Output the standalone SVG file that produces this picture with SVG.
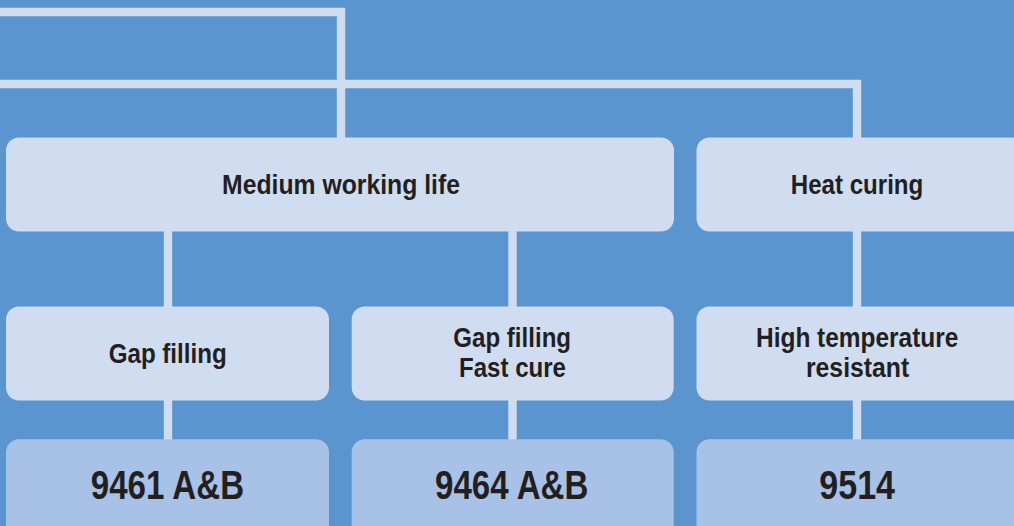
<svg xmlns="http://www.w3.org/2000/svg" width="1014" height="526" viewBox="0 0 1014 526">
<style>
.bg{fill:#5a95cf}
.c{fill:none;stroke:#d0ddf0;stroke-width:8.4;stroke-linejoin:miter}
.b1{fill:#d0ddf0}
.b2{fill:#a8c1e6}
.t{font-family:"Liberation Sans Narrow","Liberation Sans",Arial,sans-serif;font-weight:bold;fill:#231f20;text-anchor:middle}
.s{font-size:28px}
.l{font-size:40px}
</style>
<rect class="bg" x="0" y="0" width="1014" height="526"/>
<g id="connectors">
<path class="c" d="M0 12 H341 V140"/>
<path class="c" d="M0 84 H857 V140"/>
<path class="c" d="M168 228 V442"/>
<path class="c" d="M512.5 228 V442"/>
<path class="c" d="M857 228 V442"/>
</g>
<g id="n-medium">
<rect class="b1" x="6" y="137.5" width="668" height="94" rx="13"/>
<text class="t s" x="341" y="193.5" textLength="238" lengthAdjust="spacingAndGlyphs">Medium working life</text>
</g>
<g id="n-heat">
<rect class="b1" x="696.5" y="137.5" width="330" height="94" rx="13"/>
<text class="t s" x="857" y="194" textLength="132.5" lengthAdjust="spacingAndGlyphs">Heat curing</text>
</g>
<g id="n-gap">
<rect class="b1" x="6" y="306.5" width="323" height="94" rx="13"/>
<text class="t s" x="167.7" y="362.5" textLength="118" lengthAdjust="spacingAndGlyphs">Gap filling</text>
</g>
<g id="n-gapfast">
<rect class="b1" x="351.7" y="306.5" width="322" height="94" rx="13"/>
<text class="t s" x="512.2" y="346.7" textLength="117.7" lengthAdjust="spacingAndGlyphs">Gap filling</text>
<text class="t s" x="512.5" y="377.3" textLength="107" lengthAdjust="spacingAndGlyphs">Fast cure</text>
</g>
<g id="n-hightemp">
<rect class="b1" x="696.5" y="306.5" width="330" height="94" rx="13"/>
<text class="t s" x="857.2" y="346.7" textLength="202.3" lengthAdjust="spacingAndGlyphs">High temperature</text>
<text class="t s" x="857.6" y="377.3" textLength="103.3" lengthAdjust="spacingAndGlyphs">resistant</text>
</g>
<g id="n-9461">
<rect class="b2" x="6" y="439.3" width="323" height="110" rx="13"/>
<text class="t l" x="167.4" y="499" textLength="153.3" lengthAdjust="spacingAndGlyphs">9461 A&amp;B</text>
</g>
<g id="n-9464">
<rect class="b2" x="351.7" y="439.3" width="322" height="110" rx="13"/>
<text class="t l" x="511.7" y="498.5" textLength="153.3" lengthAdjust="spacingAndGlyphs">9464 A&amp;B</text>
</g>
<g id="n-9514">
<rect class="b2" x="696.5" y="439.3" width="330" height="110" rx="13"/>
<text class="t l" x="857.2" y="498.5" textLength="75.7" lengthAdjust="spacingAndGlyphs">9514</text>
</g>
</svg>
